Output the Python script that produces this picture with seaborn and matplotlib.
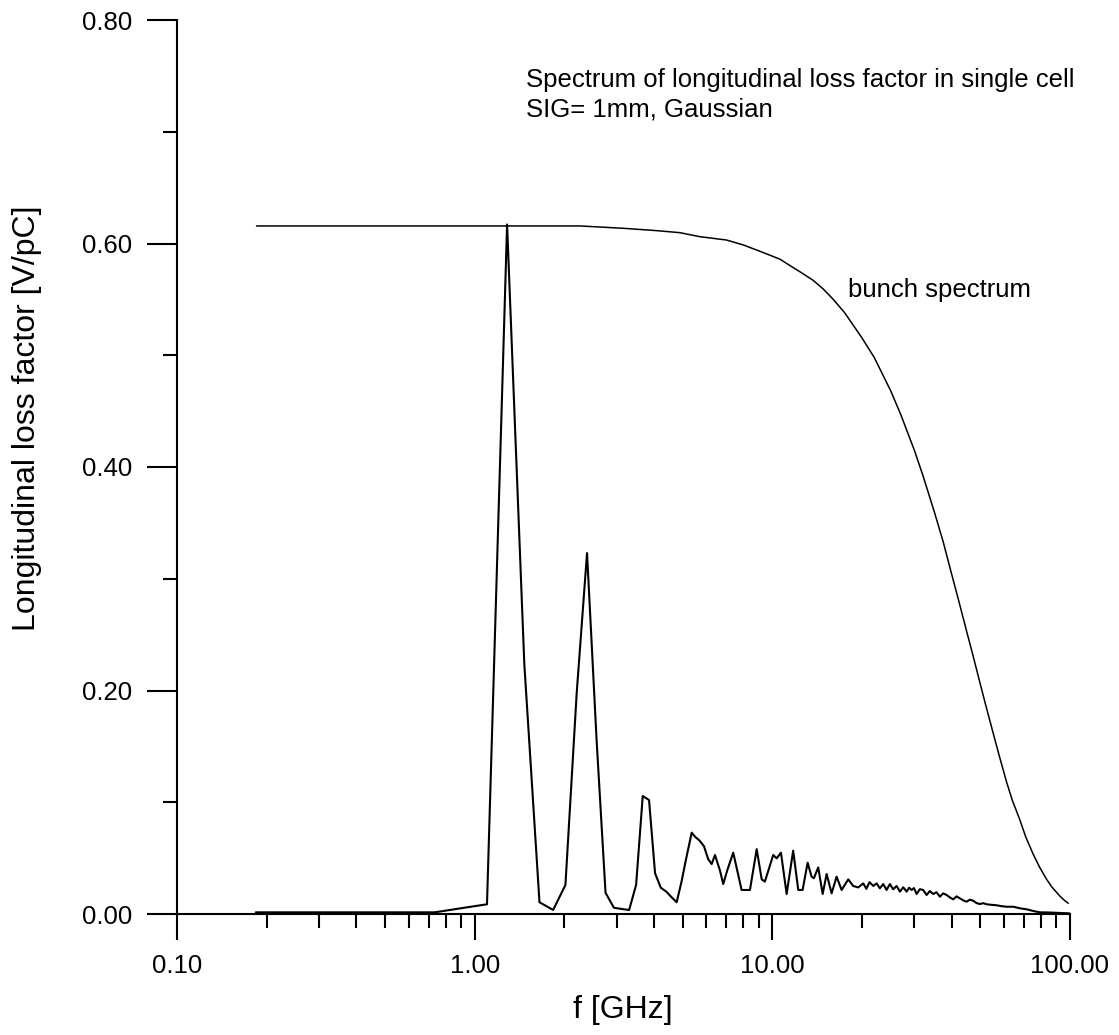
import numpy as np
import pandas as pd
import matplotlib
matplotlib.use("Agg")
import matplotlib.pyplot as plt
import matplotlib.ticker as mticker
import seaborn as sns

# ---------------- data ----------------
loss_freq = [0.184, 0.367, 0.551, 0.734, 0.918, 1.10, 1.285, 1.468, 1.651, 1.835,
             2.018, 2.202, 2.385, 2.569, 2.752, 2.936, 3.119, 3.303, 3.486, 3.670,
             3.853, 4.037, 4.220, 4.404, 4.587, 4.771, 4.954, 5.138, 5.36, 5.505,
             5.68, 5.89, 6.09, 6.255, 6.417, 6.668, 6.84, 7.055, 7.39, 7.885,
             8.41, 8.86, 9.21, 9.44, 10.07, 10.34, 10.69, 11.17, 11.75, 12.22,
             12.64, 13.14, 13.55, 13.79, 14.26, 14.76, 15.22, 15.82, 16.44, 17.09,
             17.99, 18.70, 19.44, 20.20, 20.7, 21.2, 21.83, 22.40, 22.98, 23.58,
             24.20, 24.83, 25.47, 26.15, 26.83, 27.53, 28.26, 28.8, 29.38, 29.9,
             30.53, 31.3, 32.13, 32.98, 33.8, 34.72, 35.6, 36.56, 37.5, 38.50,
             39.5, 40.52, 41.6, 42.66, 43.8, 44.94, 46.1, 47.30, 48.5, 49.81,
             51.1, 52.46, 54.5, 56.68, 58.9, 61.24, 64.47, 67.88, 71.49, 75.23,
             79.21, 83.5, 87.83, 93.0, 99.38]
loss_value = [0.0015, 0.0015, 0.0015, 0.0015, 0.0055, 0.0087, 0.617, 0.224, 0.0105, 0.0036,
              0.026, 0.198, 0.323, 0.155, 0.019, 0.0056, 0.0045, 0.0036, 0.026, 0.1056,
              0.102, 0.0364, 0.0235, 0.020, 0.015, 0.0105, 0.029, 0.050, 0.0728, 0.069,
              0.066, 0.0608, 0.049, 0.0447, 0.0528, 0.039, 0.0268, 0.039, 0.0549, 0.0215,
              0.0215, 0.058, 0.031, 0.029, 0.0528, 0.0498, 0.0549, 0.0179, 0.0567, 0.0215,
              0.0215, 0.0459, 0.0334, 0.032, 0.0417, 0.0179, 0.0358, 0.0185, 0.0334, 0.0215,
              0.031, 0.025, 0.0238, 0.0274, 0.0225, 0.0285, 0.0251, 0.0274, 0.023, 0.0268,
              0.0215, 0.0268, 0.0221, 0.0251, 0.020, 0.0239, 0.020, 0.0235, 0.0215, 0.0232,
              0.0179, 0.0222, 0.0215, 0.017, 0.0205, 0.0179, 0.0195, 0.0155, 0.0185, 0.017,
              0.0148, 0.0131, 0.0158, 0.014, 0.0122, 0.011, 0.0128, 0.0119, 0.0098, 0.0089,
              0.0097, 0.0087, 0.0082, 0.0078, 0.0070, 0.0065, 0.0065, 0.0051, 0.0042, 0.0027,
              0.0015, 0.0014, 0.0012, 0.0009, 0.0006]

bunch_freq = [0.185, 1.0, 2.26, 3.16, 4.09, 4.89, 5.71, 7.02, 7.99, 9.09,
              10.6, 11.5, 12.5, 13.72, 14.8, 16.02, 17.5, 19.95, 22.0, 25.0,
              27.0, 30.0, 32.0, 35.0, 37.5, 39.5, 42.12, 44.95, 47.0, 49.82,
              52.0, 55.21, 58.0, 61.24, 64.0, 67.88, 71.0, 75.23, 79.0, 83.45,
              87.0, 92.49, 96.0, 98.63]
bunch_value = [0.6157, 0.6157, 0.6157, 0.6136, 0.6115, 0.6097, 0.6061, 0.6031, 0.5987, 0.5930,
               0.586, 0.580, 0.574, 0.567, 0.5595, 0.550, 0.538, 0.516, 0.498, 0.468,
               0.447, 0.415, 0.393, 0.360, 0.333, 0.310, 0.282, 0.2530, 0.2334, 0.2070,
               0.1878, 0.1617, 0.1405, 0.118, 0.1018, 0.0841, 0.069, 0.0535, 0.042, 0.0310,
               0.024, 0.016, 0.012, 0.0096]

x_ticks = [0.1, 1.0, 10.0, 100.0]
x_tick_labels = ["0.10", "1.00", "10.00", "100.00"]
y_ticks = [0.0, 0.2, 0.4, 0.6, 0.8]
y_tick_labels = ["0.00", "0.20", "0.40", "0.60", "0.80"]

title_lines = ["Spectrum of longitudinal loss factor in single cell",
               "SIG= 1mm, Gaussian"]
curve_label = "bunch spectrum"
x_label = "f [GHz]"
y_label = "Longitudinal loss factor [V/pC]"

# ---------------- style ----------------
sns.set_theme(style="ticks")
plt.rcParams["font.family"] = ["Liberation Sans", "DejaVu Sans"]
plt.rcParams["text.color"] = "black"
plt.rcParams["axes.labelcolor"] = "black"
plt.rcParams["xtick.color"] = "black"
plt.rcParams["ytick.color"] = "black"
plt.rcParams["axes.edgecolor"] = "black"

W, H = 1119, 1035
fig = plt.figure(figsize=(W / 100, H / 100), dpi=100)
fig.patch.set_facecolor("white")
ax = fig.add_axes([177 / W, 1 - 914 / H, (1070 - 177) / W, (914 - 20) / H])
ax.set_facecolor("white")

df_loss = pd.DataFrame({"f": loss_freq, "v": loss_value})
df_bunch = pd.DataFrame({"f": bunch_freq, "v": bunch_value})

sns.lineplot(data=df_bunch, x="f", y="v", ax=ax, color="black", lw=1.1,
             sort=False, estimator=None)
sns.lineplot(data=df_loss, x="f", y="v", ax=ax, color="black", lw=1.5,
             sort=False, estimator=None)

ax.set_xscale("log")
ax.set_xlim(0.1, 100)
ax.set_ylim(0, 0.8)

ax.set_xticks(x_ticks)
ax.set_xticklabels(x_tick_labels)
ax.xaxis.set_minor_locator(mticker.LogLocator(base=10, subs=np.arange(2, 10)))
ax.xaxis.set_minor_formatter(mticker.NullFormatter())
ax.set_yticks(y_ticks)
ax.set_yticklabels(y_tick_labels)
ax.yaxis.set_minor_locator(mticker.MultipleLocator(0.1))

for s in ["top", "right"]:
    ax.spines[s].set_visible(False)
for s in ["left", "bottom"]:
    ax.spines[s].set_linewidth(1.5)
    ax.spines[s].set_color("black")

ax.tick_params(axis="x", which="major", direction="out", length=19, width=1.5,
               labelsize=18.5, pad=10, colors="black")
ax.tick_params(axis="x", which="minor", direction="out", length=10, width=1.5,
               colors="black")
ax.tick_params(axis="y", which="major", direction="out", length=21.5, width=1.5,
               labelsize=18.5, pad=11, colors="black")
ax.tick_params(axis="y", which="minor", direction="out", length=10, width=1.5,
               colors="black")
ax.set_xlabel("")
ax.set_ylabel("")
ax.grid(False)

fig.text(623 / W, 1 - 1010 / H, x_label, ha="center", va="center", fontsize=23,
         color="black")
fig.text(27.5 / W, 1 - 418.5 / H, y_label, ha="center", va="center",
         rotation=90, fontsize=23, color="black")

fig.text(526 / W, 1 - 86.7 / H, title_lines[0], ha="left", va="baseline",
         fontsize=18.5, color="black")
fig.text(526 / W, 1 - 116.7 / H, title_lines[1], ha="left", va="baseline",
         fontsize=18.5, color="black")
fig.text(848 / W, 1 - 296.7 / H, curve_label, ha="left", va="baseline",
         fontsize=18.5, color="black")

fig.savefig("out.png", dpi=100, facecolor="white")
